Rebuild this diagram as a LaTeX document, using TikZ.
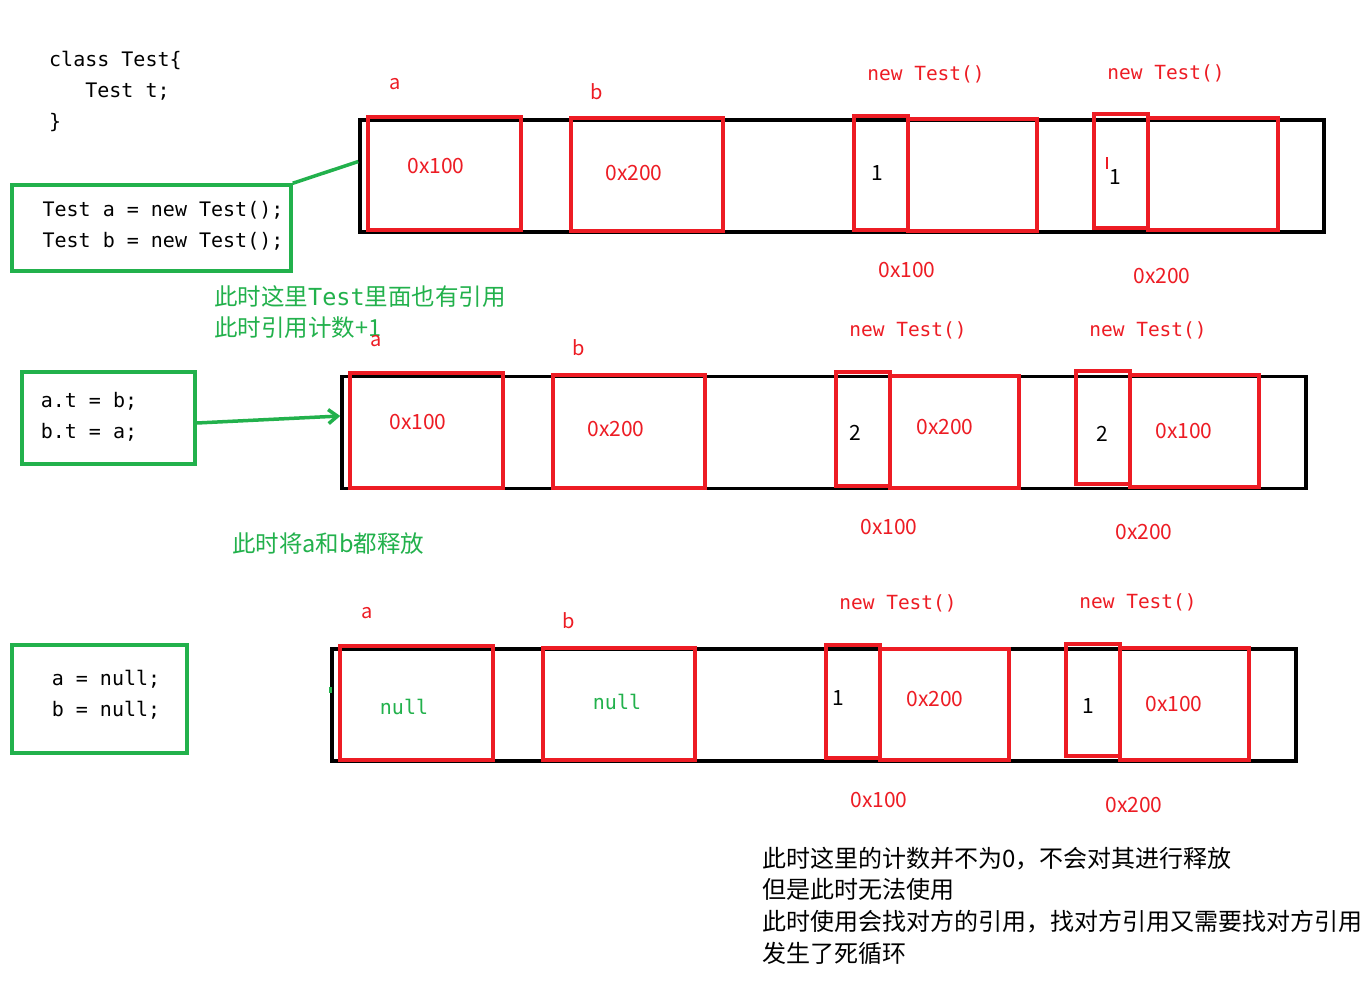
\documentclass[tikz,border=0pt]{standalone}
\usepackage{fontspec}
\setmainfont{Noto Sans CJK SC}
\newfontfamily\codefont{DejaVu Sans Mono}
\usetikzlibrary{arrows.meta,calc}
\definecolor{rd}{RGB}{237,28,36}
\definecolor{gr}{RGB}{34,177,76}
\begin{document}
\begin{tikzpicture}[x=1pt,y=-1pt,
  mem/.style={draw=black,line width=3.5pt,inner sep=0,minimum width=964pt,minimum height=112pt},
  cell/.style={draw=rd,line width=3.5pt,inner sep=0},
  codebox/.style={draw=gr,line width=3.5pt,inner sep=0},
  codetxt/.style={font=\codefont\fontsize{20}{31}\selectfont,align=left,inner sep=0},
  objlbl/.style={text=rd,font=\codefont\fontsize{19.5}{24}\selectfont,inner sep=0},
  varlbl/.style={text=rd,font=\fontsize{20}{24}\selectfont,inner sep=0},
  val/.style={text=rd,font=\fontsize{21}{24}\selectfont,inner sep=0},
  cnt/.style={text=black,font=\fontsize{21}{24}\selectfont,inner sep=0},
  nullv/.style={text=gr,font=\codefont\fontsize{20}{24}\selectfont,inner sep=0},
  note/.style={text=gr,font=\fontsize{23.5}{31}\selectfont,align=left,inner sep=0,anchor=west},
  link/.style={draw=gr,line width=3.5pt}
]
\useasboundingbox[fill=white] (0,0) rectangle (1371,996);

% class declaration
\node[codetxt,anchor=west] (cls) at (49,91) {class Test\{\\\ \ \ Test t;\\\}};

% code boxes
\node[codebox,minimum width=279pt,minimum height=86pt] (code1) at (151.5,228) {};
\node[codetxt] (code1t) at (163,226) {Test a = new Test();\\Test b = new Test();};
\node[codebox,minimum width=173pt,minimum height=92pt] (code2) at (108.5,418) {};
\node[codetxt] (code2t) at (89,417) {a.t = b;\\b.t = a;};
\node[codebox,minimum width=175pt,minimum height=108pt] (code3) at (99.5,699) {};
\node[codetxt] (code3t) at (106,695) {a = null;\\b = null;};

% ---------- row 1 ----------
\node[mem] (mem1) at (842,176) {};
\node[cell,minimum width=153pt,minimum height=113pt] (a1) at (444.5,173.5) {};
\node[cell,minimum width=152pt,minimum height=113pt] (b1) at (647,174.5) {};
\node[cell,minimum width=54pt,minimum height=114pt] (c1s) at (881,173) {};
\node[cell,minimum width=129pt,minimum height=112pt] (c1b) at (972.5,175) {};
\node[cell,minimum width=54pt,minimum height=114pt] (d1s) at (1121,171) {};
\node[cell,minimum width=130pt,minimum height=112pt] (d1b) at (1213,174) {};
\node[varlbl] (la1) at (395,84) {a};
\node[varlbl] (lb1) at (597,92) {b};
\node[objlbl] (lc1) at (926,74) {new Test()};
\node[objlbl] (ld1) at (1166,73) {new Test()};
\node[val] (va1) at (436,166) {0x100};
\node[val] (vb1) at (634,173) {0x200};
\node[cnt] (vc1) at (877,173) {1};
\node[cnt] (vd1) at (1115,177) {1};
\node[val] (ac1) at (907,270) {0x100};
\node[val] (ad1) at (1162,276) {0x200};
\draw[rd,line width=1.2pt] (1107,157) -- (1107,169);
\draw[link] (code1.north east) -- ($(mem1.north west)!0.375!(mem1.south west)$);
\node[note] (n1) at (214,312) {此时这里{\codefont Test}里面也有引用\\此时引用计数+1};

% ---------- row 2 ----------
\node[mem] (mem2) at (824,432.5) {};
\node[cell,minimum width=153pt,minimum height=115pt] (a2) at (426.5,430.5) {};
\node[cell,minimum width=152pt,minimum height=113pt] (b2) at (629,431.5) {};
\node[cell,minimum width=54pt,minimum height=114pt] (c2s) at (863,429) {};
\node[cell,minimum width=129pt,minimum height=112pt] (c2b) at (954.5,432) {};
\node[cell,minimum width=54pt,minimum height=113pt] (d2s) at (1103,427.5) {};
\node[cell,minimum width=129pt,minimum height=112pt] (d2b) at (1194.5,431) {};
\node[varlbl] (la2) at (376,341) {a};
\node[varlbl] (lb2) at (579,348) {b};
\node[objlbl] (lc2) at (908,330) {new Test()};
\node[objlbl] (ld2) at (1148,330) {new Test()};
\node[val] (va2) at (418,422) {0x100};
\node[val] (vb2) at (616,429) {0x200};
\node[cnt] (vc2) at (855,433) {2};
\node[val] (vc2b) at (945,427) {0x200};
\node[cnt] (vd2) at (1102,434) {2};
\node[val] (vd2b) at (1184,431) {0x100};
\node[val] (ac2) at (889,527) {0x100};
\node[val] (ad2) at (1144,532) {0x200};
\draw[link,-{Straight Barb[length=9pt,width=14pt]}] ([yshift=-5pt]code2.east) -- ([yshift=16.5pt]mem2.west);
\node[note] (n2) at (232,544) {此时将a和b都释放};

% ---------- row 3 ----------
\node[mem] (mem3) at (814,705) {};
\node[cell,minimum width=153pt,minimum height=114pt] (a3) at (416.5,703) {};
\node[cell,minimum width=152pt,minimum height=112pt] (b3) at (619,704) {};
\node[cell,minimum width=54pt,minimum height=113pt] (c3s) at (853,701.5) {};
\node[cell,minimum width=129pt,minimum height=111pt] (c3b) at (944.5,704.5) {};
\node[cell,minimum width=54pt,minimum height=112pt] (d3s) at (1093,700) {};
\node[cell,minimum width=129pt,minimum height=112pt] (d3b) at (1184.5,704) {};
\node[varlbl] (la3) at (367,613) {a};
\node[varlbl] (lb3) at (569,621) {b};
\node[objlbl] (lc3) at (898,603) {new Test()};
\node[objlbl] (ld3) at (1138,602) {new Test()};
\node[nullv] (va3) at (404,707) {null};
\node[nullv] (vb3) at (617,702) {null};
\node[cnt] (vc3) at (838,698) {1};
\node[val] (vc3b) at (935,699) {0x200};
\node[cnt] (vd3) at (1088,706) {1};
\node[val] (vd3b) at (1174,704) {0x100};
\node[val] (ac3) at (879,800) {0x100};
\node[val] (ad3) at (1134,805) {0x200};
\draw[gr,line width=3pt] (330,687) -- (330,693);

% bottom note
\node[text=black,font=\fontsize{24}{31.7}\selectfont,align=left,inner sep=0,anchor=west] (n3) at (762,905.5)
  {此时这里的计数并不为0，不会对其进行释放\\但是此时无法使用\\此时使用会找对方的引用，找对方引用又需要找对方引用\\发生了死循环};
\end{tikzpicture}
\end{document}
